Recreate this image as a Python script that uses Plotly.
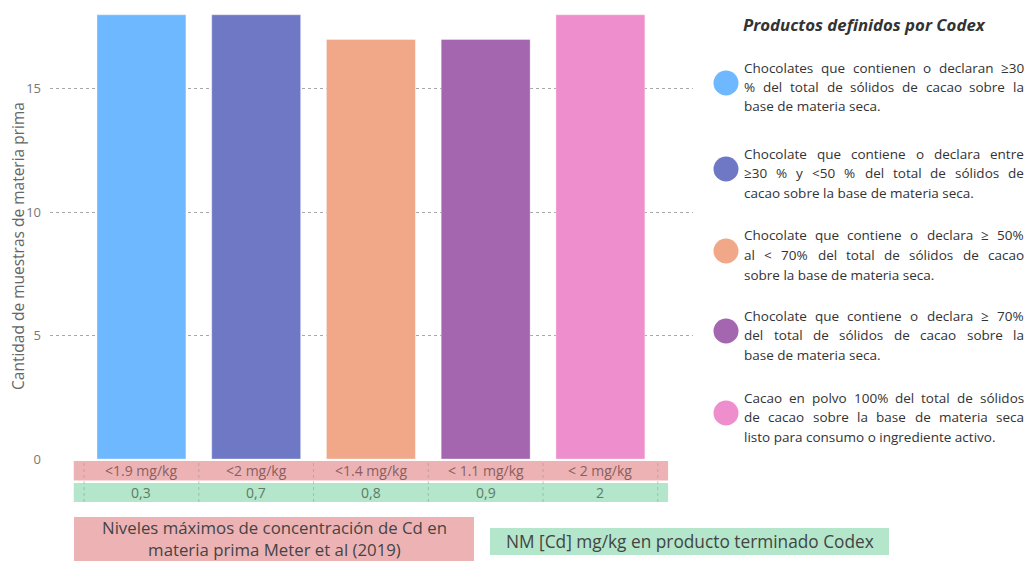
import plotly.graph_objects as go

# --- data -------------------------------------------------------------
nm_materia_prima = ["<1.9 mg/kg", "<2 mg/kg", "<1.4 mg/kg", "< 1.1 mg/kg", "< 2 mg/kg"]
nm_codex = ["0,3", "0,7", "0,8", "0,9", "2"]
muestras = [18, 18, 17, 17, 18]
colores = ["#6EB8FF", "#6E78C4", "#F0A888", "#A366AF", "#EF8ECC"]
productos = [
    ["Chocolates que contienen o declaran ≥30", "% del total de sólidos de cacao sobre la",
     "base de materia seca."],
    ["Chocolate que contiene o declara entre", "≥30 % y <50 % del total de sólidos de",
     "cacao sobre la base de materia seca."],
    ["Chocolate que contiene o declara ≥ 50%", "al < 70% del total de sólidos de cacao",
     "sobre la base de materia seca."],
    ["Chocolate que contiene o declara ≥ 70%", "del total de sólidos de cacao sobre la",
     "base de materia seca."],
    ["Cacao en polvo 100% del total de sólidos", "de cacao sobre la base de materia seca",
     "listo para consumo o ingrediente activo."],
]
titulo_leyenda = "Productos definidos por Codex"
titulo_y = "Cantidad de muestras de materia prima"
caja_rosa = "Niveles máximos de concentración de Cd en<br>materia prima Meter et al (2019)"
caja_verde = "NM [Cd] mg/kg en producto terminado Codex"

# --- geometry (pixels of the 1025x561 canvas) -------------------------
W, H = 1025, 561
PL, PR, PT, PB = 50, 693, 0, 459
FONT = "Open Sans, Noto Sans, sans-serif"
ROSA, VERDE = "#EDB3B4", "#B3E6CB"

# approximate Open Sans advance widths (units per 2048 em) for justifying text
ADV = {" ": 532, "a": 1139, "b": 1255, "c": 975, "d": 1255, "e": 1149, "f": 694,
       "g": 1122, "h": 1257, "i": 518, "j": 518, "k": 1075, "l": 518, "m": 1905,
       "n": 1257, "o": 1237, "p": 1255, "q": 1255, "r": 836, "s": 977, "t": 723,
       "u": 1257, "v": 1026, "w": 1593, "x": 1073, "y": 1028, "z": 977,
       "á": 1139, "é": 1149, "í": 518, "ó": 1237, "ú": 1257, "C": 1300,
       "%": 1751, "<": 1171, "≥": 1171, ".": 545}


def ancho(txt, size):
    return sum(ADV.get(ch, 1171) for ch in txt) / 2048 * size


def px(x):
    return (x - PL) / (PR - PL)


def py(y):
    return (PB - y) / (PB - PT)


def nota(x, y, text, size, color, xref="paper", yref="paper", **kw):
    d = dict(x=x, y=y, xref=xref, yref=yref, text=text, showarrow=False,
             xanchor="center", yanchor="middle",
             font=dict(family=FONT, size=size, color=color))
    d.update(kw)
    return d


idx = list(range(len(muestras)))

fig = go.Figure()
for i in idx:
    fig.add_trace(go.Bar(
        x=[i], y=[muestras[i]], width=0.775,
        marker=dict(color=colores[i], line=dict(color="rgba(255,255,255,0.35)", width=1)),
        showlegend=False, hoverinfo="y",
    ))

shapes = []
annotations = []

# label bands under the axis
shapes.append(dict(type="rect", xref="x", yref="paper", x0=-0.59, x1=4.59,
                   y0=py(480.5), y1=py(461), fillcolor=ROSA, line=dict(width=0), layer="below"))
shapes.append(dict(type="rect", xref="x", yref="paper", x0=-0.59, x1=4.59,
                   y0=py(502), y1=py(483), fillcolor=VERDE, line=dict(width=0), layer="below"))
for k in range(len(idx) + 1):
    shapes.append(dict(type="line", xref="x", yref="paper", x0=k - 0.5, x1=k - 0.5,
                       y0=py(502), y1=py(461), line=dict(color="rgba(140,140,140,0.45)", width=1, dash="dot")))
for i in idx:
    annotations.append(nota(i, py(470.5), nm_materia_prima[i], 14, "#8A5E60", xref="x"))
    annotations.append(nota(i, py(492.5), nm_codex[i], 14, "#5E7A66", xref="x"))

# explanatory boxes at the bottom
shapes.append(dict(type="rect", xref="paper", yref="paper", x0=px(74), x1=px(474),
                   y0=py(566), y1=py(517), fillcolor=ROSA, line=dict(width=0)))
annotations.append(nota(px(274.5), py(538.5), caja_rosa, 16.8, "#444444", align="center"))
shapes.append(dict(type="rect", xref="paper", yref="paper", x0=px(490), x1=px(889),
                   y0=py(555), y1=py(528), fillcolor=VERDE, line=dict(width=0)))
annotations.append(nota(px(690), py(541.5), caja_verde, 17.3, "#444444"))

# product legend (justified paragraphs)
annotations.append(nota(px(864), py(25), "<b><i>" + titulo_leyenda + "</i></b>", 16.8, "#333333"))
centros = [83, 169, 251, 331, 413]
R = 12.5
TX0, TX1, TS = 742, 1022, 13.5
for c, col, lineas in zip(centros, colores, productos):
    shapes.append(dict(type="circle", xref="paper", yref="paper",
                       x0=px(726 - R), x1=px(726 + R), y0=py(c + R), y1=py(c - R),
                       fillcolor=col, line=dict(width=0)))
    for j, linea in enumerate(lineas):
        yl = py(c - 15.5 + 19.5 * j)
        palabras = linea.split(" ")
        if j == len(lineas) - 1 or len(palabras) < 2:
            annotations.append(nota(px(TX0), yl, linea, TS, "#333333", xanchor="left"))
            continue
        anchos = [ancho(p, TS) for p in palabras]
        hueco = (TX1 - TX0 - sum(anchos)) / (len(palabras) - 1)
        xw = TX0
        for p, a in zip(palabras, anchos):
            annotations.append(nota(px(xw), yl, p, TS, "#333333", xanchor="left"))
            xw += a + hueco

# y-axis title
annotations.append(nota(px(18), py(246), titulo_y, 15.5, "#666666", textangle=-90))

fig.update_layout(
    width=W, height=H,
    margin=dict(l=PL, r=W - PR, t=PT, b=H - PB),
    paper_bgcolor="white", plot_bgcolor="white",
    bargap=0.225,
    shapes=shapes, annotations=annotations,
    xaxis=dict(range=[-0.797, 4.807], showticklabels=False, showgrid=False,
               zeroline=False, showline=False, fixedrange=True),
    yaxis=dict(range=[0, 18.6], tickvals=[0, 5, 10, 15], showgrid=True,
               gridcolor="#A8A8A8", griddash="dot", gridwidth=1, zeroline=False,
               showline=False, ticks="", ticklabelstandoff=8,
               tickfont=dict(family=FONT, size=13, color="#777777"), fixedrange=True),
    font=dict(family=FONT),
)

fig.write_html("out.html")
